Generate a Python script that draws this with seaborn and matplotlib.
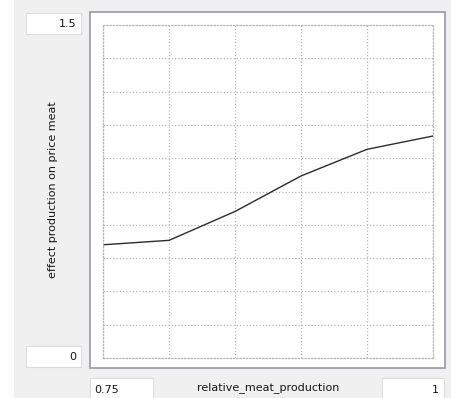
"""Lookup-editor style chart: effect of production on meat price."""

import matplotlib

matplotlib.use("Agg")
import matplotlib.pyplot as plt
import numpy as np
import pandas as pd
import seaborn as sns
from matplotlib.patches import Rectangle

# data
relative_meat_production = [0.75, 0.80, 0.85, 0.90, 0.95, 1.00]
effect_on_price = [0.51, 0.53, 0.66, 0.82, 0.94, 1.00]
x_range = [0.75, 1.0]
y_range = [0.0, 1.5]
x_label = "relative_meat_production"
y_label = "effect production on price meat"

W, H = 452, 398


def fig_rect(x0, y0, x1, y1):
    """Pixel box (top-left origin) -> figure fraction rect."""
    return (x0 / W, 1 - y1 / H, (x1 - x0) / W, (y1 - y0) / H)


sns.set_theme(style="white")
plt.rcParams["font.family"] = ["DejaVu Sans"]

fig = plt.figure(figsize=(W / 100, H / 100), dpi=100)
fig.patch.set_facecolor("#f0f0f0")

# white strip on the far left
fig.add_artist(Rectangle((0, 0), 14 / W, 1, transform=fig.transFigure,
                         facecolor="white", edgecolor="none", zorder=0))

# the panel around the graph
x, y, w, h = fig_rect(90, 12, 445, 368)
fig.add_artist(Rectangle((x, y), w, h, transform=fig.transFigure,
                         facecolor="white", edgecolor="#a0a0a8", linewidth=1.3, zorder=0))

# small value boxes
for box in [(26, 13, 81, 34), (26, 346, 81, 367), (90, 378, 153, 400), (382, 378, 444, 400)]:
    bx, by, bw, bh = fig_rect(*box)
    fig.add_artist(Rectangle((bx, by), bw, bh, transform=fig.transFigure,
                             facecolor="white", edgecolor="#dcdcdc", linewidth=0.8, zorder=0))

ax = fig.add_axes(fig_rect(103, 25, 433, 358))
ax.set_facecolor("white")

frame = pd.DataFrame({"x": relative_meat_production, "y": effect_on_price})
sns.lineplot(data=frame, x="x", y="y", color="#2b2b2b", linewidth=1.0, ax=ax)

ax.set_xlim(*x_range)
ax.set_ylim(*y_range)
ax.set_xticks(np.linspace(x_range[0], x_range[1], 6))
ax.set_yticks(np.linspace(y_range[0], y_range[1], 11))
ax.tick_params(length=0, labelbottom=False, labelleft=False)
ax.grid(True, linestyle=(0, (1, 1.6)), color="#b8b8b8", linewidth=0.9)
for spine in ax.spines.values():
    spine.set_linestyle((0, (1, 1.6)))
    spine.set_color("#b8b8b8")
    spine.set_linewidth(0.9)
ax.set_xlabel("")
ax.set_ylabel("")

txt = dict(fontsize=8, color="#151515", transform=fig.transFigure)
fig.text(76 / W, 1 - 24 / H, f"{y_range[1]:g}", ha="right", va="center", **txt)
fig.text(76 / W, 1 - 357 / H, f"{y_range[0]:g}", ha="right", va="center", **txt)
fig.text(94 / W, 1 - 390 / H, f"{x_range[0]:g}", ha="left", va="center", **txt)
fig.text(439 / W, 1 - 390 / H, f"{x_range[1]:g}", ha="right", va="center", **txt)
fig.text(268 / W, 1 - 388 / H, x_label, ha="center", va="center", **txt)
fig.text(53 / W, 1 - 190 / H, y_label, ha="center", va="center", rotation=90, **txt)

fig.savefig("out.png", dpi=100, facecolor=fig.get_facecolor())
